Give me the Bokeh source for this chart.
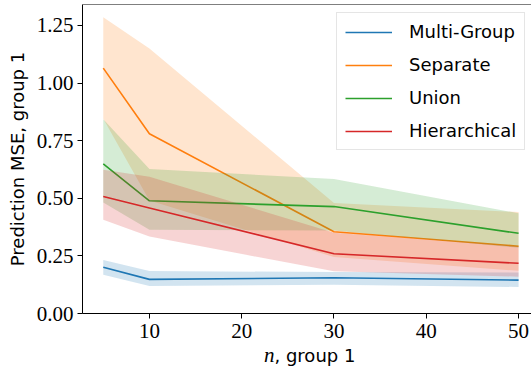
from bokeh.plotting import figure
from bokeh.models import (Range1d, FixedTicker, PrintfTickFormatter, Span, Legend, Div)
from bokeh.layouts import column
from bokeh.embed import file_html
from bokeh.resources import INLINE

# ---- data ----
n_group1 = [5, 10, 30, 50]

multi_mean = [0.201, 0.148, 0.155, 0.145]
multi_lo = [0.168, 0.119, 0.125, 0.115]
multi_hi = [0.232, 0.184, 0.180, 0.178]

sep_mean = [1.065, 0.780, 0.355, 0.292]
sep_lo = [0.845, 0.490, 0.245, 0.185]
sep_hi = [1.286, 1.150, 0.480, 0.440]

union_mean = [0.649, 0.489, 0.464, 0.348]
union_lo = [0.482, 0.363, 0.360, 0.285]
union_hi = [0.843, 0.627, 0.584, 0.435]

hier_mean = [0.508, 0.458, 0.259, 0.218]
hier_lo = [0.407, 0.334, 0.183, 0.160]
hier_hi = [0.624, 0.594, 0.350, 0.290]

series_names = ["Multi-Group", "Separate", "Union", "Hierarchical"]
x_ticks = [10, 20, 30, 40, 50]
y_ticks = [0.0, 0.25, 0.5, 0.75, 1.0, 1.25]

colors = ["#1f77b4", "#ff7f0e", "#2ca02c", "#d62728"]

p = figure(width=531, height=347, output_backend="svg", toolbar_location=None,
           x_range=Range1d(2.75, 51.4), y_range=Range1d(0, 1.341),
           min_border_left=82, min_border_right=0, min_border_top=4,
           min_border_bottom=34)
p.outline_line_color = None
p.grid.visible = False
p.background_fill_color = "white"
p.border_fill_color = "white"

series = [
    (multi_mean, multi_lo, multi_hi),
    (sep_mean, sep_lo, sep_hi),
    (union_mean, union_lo, union_hi),
    (hier_mean, hier_lo, hier_hi),
]
items = []
for (m, lo, hi), c, name in zip(series, colors, series_names):
    r = p.line(n_group1, m, line_color=c, line_width=1.6)
    p.varea(x=n_group1, y1=lo, y2=hi, fill_color=c, fill_alpha=0.2)
    items.append((name, [r]))

legend = Legend(items=items, location=(254, 163))
legend.label_text_font = "DejaVu Sans"
legend.label_text_font_size = "18px"
legend.label_text_color = "black"
legend.glyph_width = 47
legend.glyph_height = 20
legend.label_height = 20
legend.label_standoff = 17
legend.spacing = 12
legend.padding = 8
legend.margin = 0
legend.border_line_color = "#cccccc"
legend.border_line_width = 1
legend.background_fill_alpha = 0.8
p.add_layout(legend)

# top spine
p.add_layout(Span(location=1.341, dimension="width", line_color="black", line_width=1))

for ax in (p.xaxis, p.yaxis):
    ax.axis_line_color = "black"
    ax.major_tick_line_color = "black"
    ax.major_tick_out = 5
    ax.major_tick_in = 0
    ax.minor_tick_line_color = None
    ax.major_label_text_font = "Liberation Serif"
    ax.major_label_text_font_size = "21px"
    ax.major_label_text_color = "black"

p.xaxis.ticker = FixedTicker(ticks=x_ticks)
p.xaxis.major_label_standoff = 5
p.yaxis.ticker = FixedTicker(ticks=y_ticks)
p.yaxis.formatter = PrintfTickFormatter(format="%.2f")
p.yaxis.major_label_standoff = 4

p.yaxis.axis_label = "Prediction MSE, group 1"
p.yaxis.axis_label_text_font = "DejaVu Sans"
p.yaxis.axis_label_text_font_style = "normal"
p.yaxis.axis_label_text_font_size = "18px"
p.yaxis.axis_label_text_color = "black"
p.yaxis.axis_label_standoff = 6

# x label: italic math n + sans text
xlabel = Div(
    text=('<div style="padding-left:264px; font-family:\'DejaVu Sans\'; font-size:18px; '
          'line-height:16px; color:black; white-space:nowrap;">'
          '<span style="font-family:\'Liberation Serif\'; font-style:italic; font-size:21px;">n</span>'
          ', group 1</div>'),
    width=531, height=19, margin=0)

layout = column(p, xlabel, spacing=0)
open("out.html", "w").write(file_html(layout, INLINE))
